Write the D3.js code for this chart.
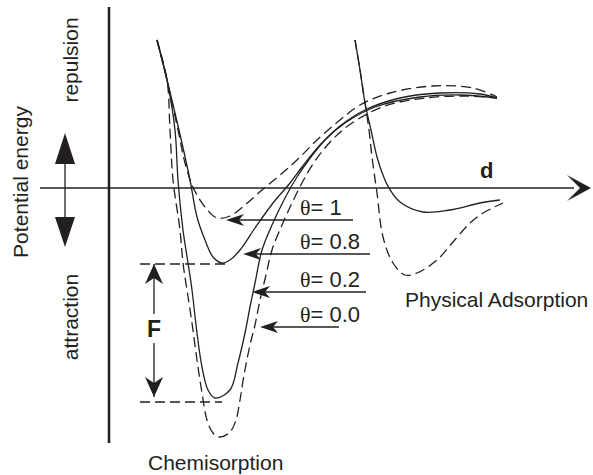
<!DOCTYPE html>
<html>
<head>
<meta charset="utf-8">
<script src="https://cdn.jsdelivr.net/npm/d3@7"></script>
<style>
  body { margin: 0; background: #fff; }
  text { font-family: "Liberation Sans", Arial, sans-serif; fill: #231f20; }
</style>
</head>
<body>
<div id="chart"></div>
<script>
// distance d (arbitrary units) and potential energy E (arbitrary units, + = repulsion)
const chemTheta1 = [[4.8,14.8],[5.8,10.8],[6.9,5.8],[7.6,2.5],[8.3,0.3],[8.8,-0.7],[9.6,-1.9],[10.8,-3.0],[12.1,-2.8],[13.6,-1.7],[15.3,-0.2],[17.1,1.3],[18.8,2.8],[20.8,4.8],[23.1,6.8],[25.1,8.3],[28.1,9.5],[32.4,10.2],[36.4,10.0],[38.8,9.1]];
const chemTheta08 = [[4.8,14.8],[5.8,10.8],[7.0,5.8],[8.1,0.8],[8.8,-2.9],[9.6,-5.2],[10.4,-6.9],[11.3,-7.5],[12.1,-7.2],[13.1,-6.2],[14.6,-4.0],[16.4,-1.5],[18.1,0.5],[19.3,2.1],[21.1,4.3],[23.1,6.2],[25.6,7.8],[29.1,9.0],[33.1,9.5],[37.1,9.4],[38.8,9.0]];
const chemTheta02 = [[4.8,14.8],[5.8,10.8],[6.6,5.8],[6.9,0.8],[7.4,-4.2],[7.9,-7.5],[8.3,-10.2],[8.8,-14.5],[9.3,-17.9],[9.9,-20.2],[10.6,-21.0],[12.1,-20.2],[12.9,-17.5],[13.6,-14.5],[14.1,-11.9],[14.6,-9.5],[15.3,-6.2],[16.3,-3.7],[17.6,-1.0],[18.8,1.1],[19.9,2.7],[21.6,4.8],[23.6,6.5],[26.6,8.1],[31.1,9.1],[35.1,9.3],[38.8,9.0]];
const chemTheta0 = [[4.8,14.8],[5.8,10.8],[6.1,5.8],[6.4,0.8],[7.1,-4.2],[7.4,-7.5],[7.8,-10.2],[8.3,-13.5],[8.8,-17.2],[9.3,-20.5],[9.8,-23.2],[10.4,-24.5],[11.1,-24.9],[12.1,-24.4],[12.7,-23.2],[13.1,-21.2],[13.5,-18.7],[14.1,-15.7],[14.6,-13.7],[15.1,-11.2],[15.7,-8.7],[16.3,-6.2],[17.3,-3.7],[18.3,-1.5],[19.4,0.7],[20.6,2.7],[22.3,4.8],[24.3,6.5],[27.6,8.2],[31.6,9.0],[35.6,9.2],[38.8,9.0]];
const physSolid = [[24.6,14.8],[25.1,11.8],[25.6,8.5],[26.2,5.8],[26.8,3.1],[27.4,1.3],[28.0,0],[29.1,-1.4],[31.4,-2.4],[34.1,-2.2],[37.1,-1.5],[39.1,-1.2]];
const physDashed = [[24.6,14.8],[25.1,11.8],[25.6,8.5],[26.0,5.8],[26.3,3.1],[26.8,-0.5],[27.4,-4.9],[28.4,-7.5],[29.6,-8.7],[30.8,-8.5],[32.8,-7.2],[34.4,-5.4],[36.1,-3.5],[37.4,-2.5],[39.4,-1.5]];

// theta labels and the arrows pointing at each curve
const thetaLabels = ['1', '0.8', '0.2', '0.0'];
const arrowTipD = [11.7, 13.4, 14.3, 15.1];
const arrowTailD = [24.4, 26.1, 25.7, 23.0];
const arrowE = [-3.2, -6.6, -10.4, -13.9];

// heat of adsorption F between the two minima
const levelTopE = -7.6;
const levelBottomE = -21.4;
const levelStartD = 3.1;
const levelEndD = [11.6, 11.3];

const width = 593;
const height = 475;

const x = d3.scaleLinear().domain([0, 48]).range([109, 589]);
const y = d3.scaleLinear().domain([-25.5, 18]).range([443, 8]);

const svg = d3.select('#chart').append('svg')
  .attr('width', width)
  .attr('height', height);

const ink = '#231f20';

const line = d3.line()
  .x(d => x(d[0]))
  .y(d => y(d[1]))
  .curve(d3.curveCatmullRom.alpha(0.5));

// curves
const curves = [
  { data: chemTheta1, dashed: true },
  { data: chemTheta08, dashed: false },
  { data: chemTheta02, dashed: false },
  { data: chemTheta0, dashed: true },
  { data: physSolid, dashed: false },
  { data: physDashed, dashed: true }
];

svg.append('g')
  .selectAll('path')
  .data(curves)
  .join('path')
  .attr('d', d => line(d.data))
  .attr('fill', 'none')
  .attr('stroke', ink)
  .attr('stroke-width', 1.3)
  .attr('stroke-dasharray', d => d.dashed ? '10,5' : null);

// axes
svg.append('line')
  .attr('x1', x(0)).attr('x2', x(0))
  .attr('y1', y(18.1)).attr('y2', y(-25.5))
  .attr('stroke', ink).attr('stroke-width', 2.5);

svg.append('line')
  .attr('x1', x(-6.9)).attr('x2', x(46.5))
  .attr('y1', y(0)).attr('y2', y(0))
  .attr('stroke', ink).attr('stroke-width', 1.3);

// barbed arrow head helper: tip at (tx,ty), pointing in direction angle (radians)
function barb(tx, ty, angle, len, half, notch) {
  const c = Math.cos(angle), s = Math.sin(angle);
  const pt = (a, b) => [tx - a * c - b * -s, ty - a * s - b * c];
  const p1 = pt(len, half), p2 = pt(len - notch, 0), p3 = pt(len, -half);
  return `M${tx},${ty}L${p1}L${p2}L${p3}Z`;
}

svg.append('path')
  .attr('d', barb(x(48.2), y(0), 0, 24, 13, 13))
  .attr('fill', ink);

svg.append('text')
  .attr('x', x(37.1)).attr('y', y(1))
  .attr('font-size', 22).attr('font-weight', 'bold')
  .text('d');

// energy double arrow on the left
const ax = 65;
svg.append('line')
  .attr('x1', ax).attr('x2', ax)
  .attr('y1', y(4.5)).attr('y2', y(-4.9))
  .attr('stroke', ink).attr('stroke-width', 1.3);
svg.append('path').attr('d', barb(ax, y(5.5), -Math.PI / 2, 31, 10, 0)).attr('fill', ink);
svg.append('path').attr('d', barb(ax, y(-5.9), Math.PI / 2, 30, 10, 0)).attr('fill', ink);

svg.append('text')
  .attr('transform', `translate(20,${y(0.6)}) rotate(-90)`)
  .attr('text-anchor', 'middle').attr('dominant-baseline', 'central')
  .attr('font-size', 21)
  .text('Potential energy');

svg.append('text')
  .attr('transform', `translate(70,${y(12.8)}) rotate(-90)`)
  .attr('text-anchor', 'middle').attr('dominant-baseline', 'central')
  .attr('font-size', 21)
  .text('repulsion');

svg.append('text')
  .attr('transform', `translate(70,${y(-12.9)}) rotate(-90)`)
  .attr('text-anchor', 'middle').attr('dominant-baseline', 'central')
  .attr('font-size', 21)
  .text('attraction');

// level lines for F
svg.append('g')
  .selectAll('line')
  .data([levelTopE, levelBottomE])
  .join('line')
  .attr('x1', x(levelStartD))
  .attr('x2', (d, i) => x(levelEndD[i]))
  .attr('y1', d => y(d)).attr('y2', d => y(d))
  .attr('stroke', ink).attr('stroke-width', 1.3)
  .attr('stroke-dasharray', '10,5');

const fx = x(4.5);
svg.append('line')
  .attr('x1', fx).attr('x2', fx)
  .attr('y1', y(levelTopE)).attr('y2', y(-12.6))
  .attr('stroke', ink).attr('stroke-width', 1.3);
svg.append('line')
  .attr('x1', fx).attr('x2', fx)
  .attr('y1', y(-15.5)).attr('y2', y(levelBottomE + 0.5))
  .attr('stroke', ink).attr('stroke-width', 1.3);
svg.append('path').attr('d', barb(fx, y(levelTopE), -Math.PI / 2, 20, 9, 6)).attr('fill', ink);
svg.append('path').attr('d', barb(fx, y(levelBottomE + 0.5), Math.PI / 2, 20, 9, 6)).attr('fill', ink);

svg.append('text')
  .attr('x', fx).attr('y', y(-14.9))
  .attr('text-anchor', 'middle')
  .attr('font-size', 23).attr('font-weight', 'bold')
  .text('F');

// theta arrows and labels
const arrows = svg.append('g');
thetaLabels.forEach((lab, i) => {
  const yy = y(arrowE[i]);
  arrows.append('line')
    .attr('x1', x(arrowTailD[i])).attr('x2', x(arrowTipD[i]) + 6)
    .attr('y1', yy).attr('y2', yy)
    .attr('stroke', ink).attr('stroke-width', 1.3);
  arrows.append('path')
    .attr('d', barb(x(arrowTipD[i]), yy, Math.PI, 18, 6, 5))
    .attr('fill', ink);
  const t = arrows.append('text')
    .attr('x', x(19.1)).attr('y', yy - 5)
    .attr('font-size', 22);
  t.append('tspan').attr('font-family', '"Liberation Serif", serif').text('θ');
  t.append('tspan').text('= ' + lab);
});

svg.append('text')
  .attr('x', x(29.6)).attr('y', y(-11.9))
  .attr('font-size', 21)
  .text('Physical Adsorption');

svg.append('text')
  .attr('x', x(3.9)).attr('y', y(-28.2))
  .attr('font-size', 21)
  .text('Chemisorption');
</script>
</body>
</html>
